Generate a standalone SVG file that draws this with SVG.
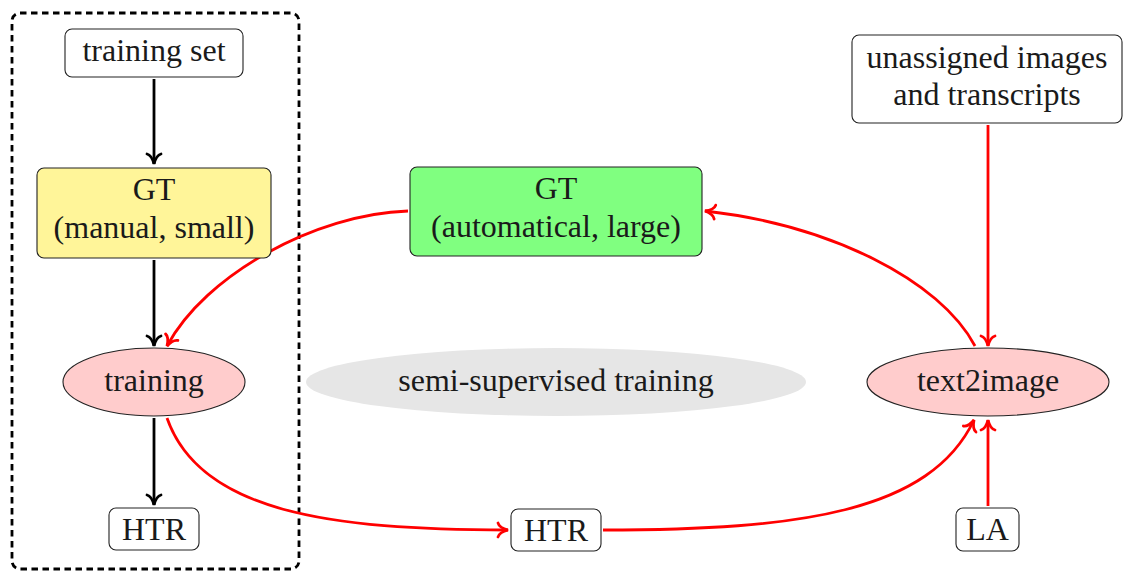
<svg xmlns="http://www.w3.org/2000/svg" width="1123" height="571" viewBox="0 0 1123 571">
<style>
text{font-family:"Liberation Serif","Times New Roman",serif;font-size:32px;fill:#1a1a1a;text-anchor:middle}
.box{stroke:#222;stroke-width:1.1}
.blk{fill:none;stroke:#000;stroke-width:2.8}
.red{fill:none;stroke:#ff0000;stroke-width:2.8}
</style>
<defs>
<marker id="ak" viewBox="-13 -9 15 18" refX="0" refY="0" markerWidth="15" markerHeight="18" markerUnits="userSpaceOnUse" orient="auto">
<path d="M-10,-7 C-9,-3.2 -3.5,-0.9 0,0 C-3.5,0.9 -9,3.2 -10,7" fill="none" stroke="#000" stroke-width="2.8" stroke-linecap="round"/>
</marker>
<marker id="ar" viewBox="-13 -9 15 18" refX="0" refY="0" markerWidth="15" markerHeight="18" markerUnits="userSpaceOnUse" orient="auto">
<path d="M-10,-7 C-9,-3.2 -3.5,-0.9 0,0 C-3.5,0.9 -9,3.2 -10,7" fill="none" stroke="#ff0000" stroke-width="2.8" stroke-linecap="round"/>
</marker>
</defs>

<g id="group-box">
<rect x="12" y="13" width="287" height="556" rx="8" fill="none" stroke="#000" stroke-width="2.8" stroke-dasharray="6.5 4.5"/>
</g>

<g id="semi-supervised">
<ellipse cx="556" cy="382" rx="250" ry="34" fill="#e6e6e6"/>
<text x="556" y="391">semi-supervised training</text>
</g>

<g id="connectors">
<path class="blk" d="M154,79 L154,164" marker-end="url(#ak)"/>
<path class="blk" d="M154,260 L154,346" marker-end="url(#ak)"/>
<path class="blk" d="M154,418 L154,505" marker-end="url(#ak)"/>
<path class="red" d="M408,211 C315,214 205,275 167,346" marker-end="url(#ar)"/>
<path class="red" d="M167,418 C200,512 330,530 508,530" marker-end="url(#ar)"/>
<path class="red" d="M603,530 C800,530 930,512 974,420" marker-end="url(#ar)"/>
<path class="red" d="M975,346 C940,280 830,225 705,211" marker-end="url(#ar)"/>
<path class="red" d="M988,125 L988,346" marker-end="url(#ar)"/>
<path class="red" d="M988,506 L988,420" marker-end="url(#ar)"/>
</g>

<g id="training-set">
<rect class="box" x="65" y="29" width="178" height="48" rx="7" fill="#fff"/>
<text x="154" y="61">training set</text>
</g>

<g id="gt-manual">
<rect class="box" x="37" y="168" width="234" height="90" rx="7" fill="#fff599"/>
<text x="154" y="200">GT</text>
<text x="154" y="238">(manual, small)</text>
</g>

<g id="training">
<ellipse class="box" cx="154" cy="382" rx="91" ry="34" fill="#ffcccc"/>
<text x="154" y="391">training</text>
</g>

<g id="htr-left">
<rect class="box" x="109" y="508" width="90" height="42" rx="7" fill="#fff"/>
<text x="154" y="540">HTR</text>
</g>

<g id="gt-auto">
<rect class="box" x="410" y="167" width="292" height="89" rx="7" fill="#80ff80"/>
<text x="556" y="199">GT</text>
<text x="556" y="237">(automatical, large)</text>
</g>

<g id="htr-mid">
<rect class="box" x="511" y="509" width="90" height="42" rx="7" fill="#fff"/>
<text x="556" y="541">HTR</text>
</g>

<g id="unassigned">
<rect class="box" x="852" y="35" width="270" height="88" rx="7" fill="#fff"/>
<text x="987" y="68">unassigned images</text>
<text x="987" y="105">and transcripts</text>
</g>

<g id="text2image">
<ellipse class="box" cx="988" cy="382" rx="121" ry="34" fill="#ffcccc"/>
<text x="988" y="391">text2image</text>
</g>

<g id="la">
<rect class="box" x="956" y="508" width="63" height="43" rx="7" fill="#fff"/>
<text x="987.5" y="540">LA</text>
</g>
</svg>
